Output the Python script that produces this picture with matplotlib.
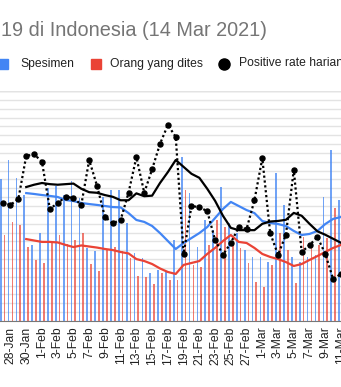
import numpy as np
import pandas as pd
import matplotlib
matplotlib.use("Agg")
import matplotlib.pyplot as plt
from matplotlib.patches import Rectangle
from matplotlib.lines import Line2D

plt.rcParams['font.family'] = ['Liberation Sans', 'DejaVu Sans']

# daily data, 27-Jan-2021 .. 11-Mar-2021
dates = pd.date_range("2021-01-27", "2021-03-11")

# bars (thousands)
spesimen = [80.3, 91.0, 80.8, 71.2, 43.0, 49.7, 75.2, 76.3, 71.2, 79.1,
            69.5, 41.3, 39.6, 70.1, 74.0, 74.0, 55.4, 38.4, 35.6, 27.1,
            28.8, 28.3, 45.8, 92.7, 72.3, 41.8, 57.1, 51.4, 75.7, 55.4,
            49.7, 40.1, 36.2, 36.2, 33.3, 83.6, 65.6, 36.2, 33.3, 36.2,
            37.3, 70.1, 96.6, 68.4]
orang_dites = [48.6, 56.0, 54.3, 41.8, 34.5, 32.8, 44.1, 48.6, 43.5, 45.8,
               49.7, 32.2, 28.3, 40.1, 41.8, 39.6, 35.6, 25.4, 24.9, 20.9,
               27.1, 23.2, 23.2, 74.0, 31.7, 30.5, 43.0, 57.1, 53.1, 44.1,
               41.3, 32.8, 22.0, 19.2, 31.7, 49.7, 40.1, 21.5, 47.5, 43.0,
               43.0, 46.9, 63.9, 40.1]

# daily positive rate (%)
positive_rate = [20.5, 20.2, 21.2, 28.7, 29.0, 27.7, 19.5, 20.5, 21.6, 21.4,
                 20.2, 28.0, 23.5, 18.1, 17.0, 17.6, 22.3, 28.5, 22.3, 26.4,
                 30.8, 34.1, 32.0, 11.7, 20.0, 19.8, 19.1, 14.1, 11.5, 13.6,
                 16.3, 16.0, 21.0, 28.3, 15.3, 11.5, 15.0, 26.3, 12.0, 13.2,
                 14.6, 11.7, 7.3, 8.2]

# 7-day averages, starting 30-Jan
nan3 = [np.nan] * 3
spesimen_avg = nan3 + [72.3, 71.8, 71.2, 70.7, 70.1, 68.4, 67.8, 66.7, 66.1, 65.6,
                       65.0, 64.4, 64.2, 61.0, 57.1, 56.0, 53.7, 49.7, 45.2, 40.7,
                       44.1, 46.9, 49.7, 53.1, 58.2, 63.3, 67.3, 65.0, 62.7, 61.0,
                       56.5, 55.4, 54.8, 53.7, 50.9, 48.6, 49.2, 50.9, 54.8, 57.7, 58.8]
orang_avg = nan3 + [46.3, 45.5, 44.7, 44.7, 44.4, 43.0, 41.8, 42.7, 42.1, 41.5,
                    40.7, 40.1, 39.0, 38.2, 35.0, 33.9, 32.2, 29.7, 27.7, 26.6,
                    31.7, 32.8, 33.9, 37.9, 41.3, 45.2, 48.6, 44.7, 44.1, 41.3,
                    37.9, 36.2, 35.0, 33.3, 31.1, 32.2, 34.5, 36.7, 39.0, 41.3, 43.0]
rate_avg = nan3 + [23.3, 23.7, 24.0, 23.8, 23.7, 23.8, 23.9, 23.0, 22.4, 22.3,
                   21.9, 21.6, 21.0, 21.0, 22.2, 21.7, 21.8, 24.0, 25.9, 28.0,
                   26.8, 25.6, 24.9, 23.0, 20.9, 18.3, 16.2, 15.8, 15.8, 15.8,
                   16.9, 17.3, 17.4, 17.6, 18.8, 18.3, 16.9, 15.6, 15.0, 14.3, 13.6]

labels = [f"{d.day}-{d.strftime('%b')}" for d in dates]

BLUE = "#4285f4"
RED = "#ea4335"

W, H = 341, 387
fig = plt.figure(figsize=(W / 100, H / 100), dpi=100)
ax = fig.add_axes([0, 1 - 321 / H, 1, (321 - 91) / H])

x = np.arange(len(dates))
bw = 0.22
ax.bar(x - 0.24, spesimen, width=bw, color=BLUE, alpha=0.75, zorder=2)
ax.bar(x + 0.24, orang_dites, width=bw, color=RED, alpha=0.7, zorder=2)
ax.plot(x, spesimen_avg, color=BLUE, lw=1.6, zorder=3)
ax.plot(x, orang_avg, color=RED, lw=1.6, zorder=3)

ax.set_xlim(-0.332, 42.94)
ax.set_ylim(0, 130)
ax.set_yticks(np.arange(0, 131, 5))
ax.grid(axis="y", color="#e3e3e3", lw=1, zorder=0)
ax.axhline(130, color="#cccccc", lw=1, zorder=1)
ax.tick_params(axis="y", length=0, labelleft=False)
ax.set_xticks(x[1::2])
ax.set_xticklabels(labels[1::2], rotation=90, fontsize=8.7, color="#222222")
ax.tick_params(axis="x", length=0, pad=4)
for s in ["top", "left", "right"]:
    ax.spines[s].set_visible(False)
ax.spines["bottom"].set_color("#777777")

ax2 = ax.twinx()
ax2.set_ylim(0, 40)
ax2.plot(x, rate_avg, color="black", lw=1.6, zorder=3)
ax2.plot(x, positive_rate, color="black", lw=1.6, ls=(0, (1, 1.2)),
         marker="o", ms=3.6, zorder=4)
ax2.set_yticks([])
for s in ["top", "left", "right", "bottom"]:
    ax2.spines[s].set_visible(False)

# title (left part cut off in the source)
fig.text(1 / W, 1 - 31 / H, "19 di Indonesia (14 Mar 2021)", fontsize=14.3,
         color="#757575", va="center", ha="left")

# legend
ly = 63.5
def square(x0, color):
    fig.add_artist(Rectangle((x0 / W, 1 - (ly + 5) / H), 10 / W, 10 / H,
                             transform=fig.transFigure, color=color))

square(-2, BLUE)
fig.text(20.5 / W, 1 - ly / H, "Spesimen", fontsize=8.7, color="#222222", va="center")
square(91, RED)
fig.text(110 / W, 1 - ly / H, "Orang yang dites", fontsize=8.7, color="#222222", va="center")
fig.add_artist(Line2D([224 / W], [1 - ly / H], marker="o", ms=8, color="black",
                      transform=fig.transFigure))
fig.text(238.5 / W, 1 - ly / H, "Positive rate harian", fontsize=8.7, color="#222222", va="center")

fig.savefig("out.png", dpi=100)
